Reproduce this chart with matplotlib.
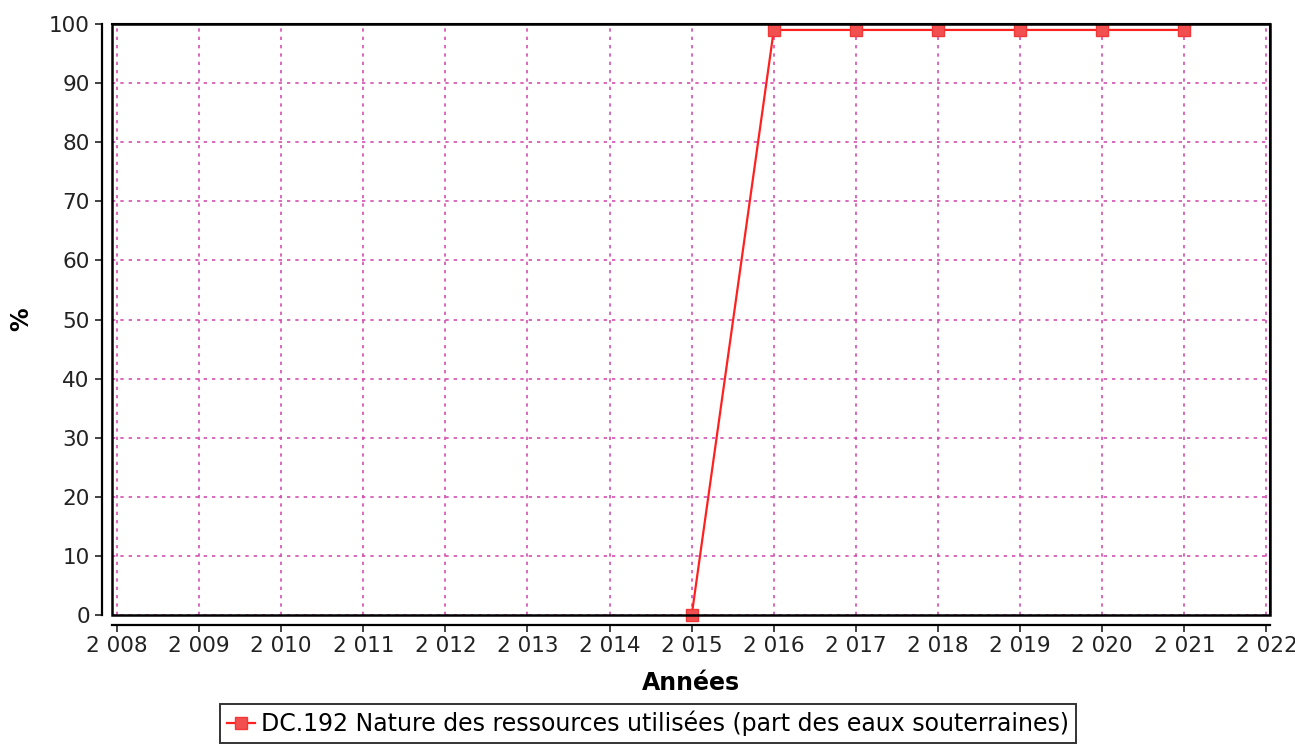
import matplotlib
matplotlib.use("Agg")
import matplotlib.pyplot as plt
from matplotlib.patches import Rectangle

years = [2015, 2016, 2017, 2018, 2019, 2020, 2021]
values = [0, 99.0, 99.0, 99.0, 99.0, 99.0, 99.0]
xticks = list(range(2008, 2023))
xtick_labels = ["2 %03d" % (y - 2000) for y in xticks]
yticks = list(range(0, 101, 10))
series_label = "DC.192 Nature des ressources utilisées (part des eaux souterraines)"

plt.rcParams['font.family'] = ['DejaVu Sans']
fig = plt.figure(figsize=(12.95, 7.51), dpi=100)
ax = fig.add_axes([0.0865, 0.181, 0.894, 0.787])

ax.set_xlim(2007.94, 2022.04)
ax.set_ylim(0, 100)
ax.set_xticks(xticks)
ax.set_xticklabels(xtick_labels)
ax.set_yticks(yticks)

grid_color = '#d64fb0'
ax.grid(True, color=grid_color, linestyle=(0, (2, 3)), linewidth=1.2)
ax.set_axisbelow(True)

ax.plot(years, values, color='#ff2020', linewidth=1.6, marker='s', markersize=8,
        markerfacecolor='#f25050', markeredgecolor='#f03838', label=series_label,
        clip_on=False, zorder=3)

for s in ['top', 'right']:
    ax.spines[s].set_visible(True)
    ax.spines[s].set_linewidth(1.5)
for s in ['left', 'bottom']:
    ax.spines[s].set_position(('outward', 7))
    ax.spines[s].set_linewidth(1.6)
ax.add_patch(Rectangle((0, 0), 1, 1, transform=ax.transAxes, fill=False,
                       edgecolor='black', linewidth=1.8, clip_on=False, zorder=4))

ax.tick_params(axis='both', labelsize=15.5, length=5, width=1.2, colors='#222222')
ax.tick_params(axis='x', pad=3)
ax.tick_params(axis='y', pad=4)
ax.set_xlabel("Années", fontsize=17, fontweight='bold')
ax.xaxis.set_label_coords(0.5, -0.095)
ax.set_ylabel("%", fontsize=17, fontweight='bold')
ax.yaxis.set_label_coords(-0.068, 0.5)

leg = ax.legend(loc='upper center', bbox_to_anchor=(0.463, -0.15), fontsize=17,
                frameon=True, fancybox=False, handlelength=1.2, handletextpad=0.25,
                borderpad=0.3, borderaxespad=0)
leg.get_frame().set_edgecolor('black')
leg.get_frame().set_linewidth(1.4)

fig.savefig("out.png", dpi=100)
